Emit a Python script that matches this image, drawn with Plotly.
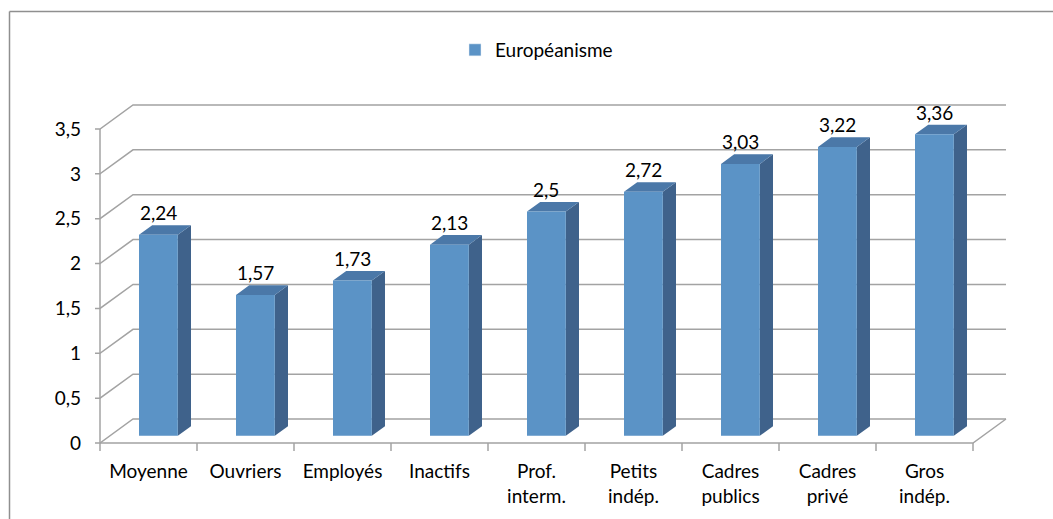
import plotly.graph_objects as go

# ---- data ----
categories = ["Moyenne", "Ouvriers", "Employés", "Inactifs", "Prof.<br>interm.",
              "Petits<br>indép.", "Cadres<br>publics", "Cadres<br>privé", "Gros<br>indép."]
values = [2.24, 1.57, 1.73, 2.13, 2.5, 2.72, 3.03, 3.22, 3.36]
series_name = "Européanisme"
y_ticks = [0, 0.5, 1, 1.5, 2, 2.5, 3, 3.5]
y_ticktext = ["0", "0,5", "1", "1,5", "2", "2,5", "3", "3,5"]

# ---- geometry / style ----
W, H = 1053, 519
KX = 97.0          # px per category
KY = 89.71         # px per value unit
DX = 33 / KX       # depth offset (x, data units)
DY = 24 / KY       # depth offset (y, data units)
D0, D1 = 0.3, 0.7  # bar depth (front/back fraction)
HALF = 0.2         # bar half width (category units)
n = len(categories)
ymax = y_ticks[-1]

FRONT = "#5b93c6"
SIDE = "#3f628b"
TOP = "#4b78a8"
GRID = "#a3a3a3"
FONT = "Lato"
FS = 19

pad_l, pad_r, pad_t, pad_b = 6, 6, 5, 10
x_range = [-pad_l / KX, n + DX + pad_r / KX]
y_range = [-pad_b / KY, ymax + DY + pad_t / KY]
m_l = 100 - pad_l
m_r = W - (100 + (n + DX) * KX) - pad_r
m_t = 443 - (ymax + DY) * KY - pad_t
m_b = H - 443 - pad_b

fig = go.Figure()

# grey frame lines: back wall gridlines, floor, axis, category ticks
lx, ly = [], []
for v in y_ticks:
    lx += [-5 / KX, 0, DX, n + DX, None]
    ly += [v, v, v + DY, v + DY, None]
lx += [0, n, n + DX, None]
ly += [0, 0, DY, None]
lx += [0, 0, None]
ly += [0, ymax, None]
for i in range(n + 1):
    lx += [i, i, None]
    ly += [0, -8 / KY, None]
fig.add_trace(go.Scatter(x=lx, y=ly, mode="lines", line=dict(color=GRID, width=1.5),
                         hoverinfo="skip", showlegend=False))

# 3D bars
fx, fy, sx, sy, tx, ty = [], [], [], [], [], []
ddx, ddy = (D1 - D0) * DX, (D1 - D0) * DY
for i, v in enumerate(values):
    xl = i + 0.5 - HALF + D0 * DX
    xr = i + 0.5 + HALF + D0 * DX
    yb = D0 * DY
    yt = v + D0 * DY
    fx += [xl, xr, xr, xl, xl, None]
    fy += [yb, yb, yt, yt, yb, None]
    sx += [xr, xr + ddx, xr + ddx, xr, xr, None]
    sy += [yb, yb + ddy, yt + ddy, yt, yb, None]
    tx += [xl, xr, xr + ddx, xl + ddx, xl, None]
    ty += [yt, yt, yt + ddy, yt + ddy, yt, None]
for px_, py_, col in [(sx, sy, SIDE), (tx, ty, TOP), (fx, fy, FRONT)]:
    fig.add_trace(go.Scatter(x=px_, y=py_, mode="lines", fill="toself", fillcolor=col,
                             line=dict(width=0, color=col), hoverinfo="skip", showlegend=False))

# legend entry
fig.add_trace(go.Bar(x=[None], y=[None], name=series_name, marker_color=FRONT, showlegend=True))

# value labels
for i, v in enumerate(values):
    fig.add_annotation(x=i + 0.5 + D0 * DX, y=v + D1 * DY, text=str(v).replace(".", ","),
                       showarrow=False, yanchor="bottom", xanchor="center",
                       font=dict(family=FONT, size=FS, color="black"), yshift=-1)

# outer frame (top and left edges)
def px2paper_x(p):
    return (p - m_l) / (W - m_l - m_r)

def px2paper_y(p):
    return 1 - (p - m_t) / (H - m_t - m_b)

fig.add_shape(type="line", xref="paper", yref="paper",
              x0=px2paper_x(9.5), x1=px2paper_x(W + 5), y0=px2paper_y(11.5), y1=px2paper_y(11.5),
              line=dict(color="#8f8f8f", width=1.5))
fig.add_shape(type="line", xref="paper", yref="paper",
              x0=px2paper_x(9.5), x1=px2paper_x(9.5), y0=px2paper_y(11.5), y1=px2paper_y(H + 5),
              line=dict(color="#8f8f8f", width=1.5))

fig.update_layout(
    width=W, height=H,
    margin=dict(l=m_l, r=m_r, t=m_t, b=m_b, pad=0, autoexpand=False),
    paper_bgcolor="white", plot_bgcolor="white",
    font=dict(family=FONT, size=FS, color="black"),
    showlegend=True,
    legend=dict(xref="container", yref="container", x=455 / W, y=1 - 50 / H,
                xanchor="left", yanchor="middle", orientation="h",
                font=dict(family=FONT, size=FS, color="black"), itemwidth=30),
    xaxis=dict(range=x_range, showgrid=False, zeroline=False, showline=False, automargin=False,
               tickmode="array", tickvals=[i + 0.5 for i in range(n)], ticktext=categories,
               ticks="", ticklabelstandoff=5, fixedrange=True),
    yaxis=dict(range=y_range, showgrid=False, zeroline=False, showline=False, automargin=False,
               tickmode="array", tickvals=y_ticks, ticktext=y_ticktext,
               ticks="", ticklabelstandoff=12, fixedrange=True),
)

fig.write_html("out.html", config={"displayModeBar": False},
               post_script="document.body.style.margin='0';document.body.style.overflow='hidden';")
